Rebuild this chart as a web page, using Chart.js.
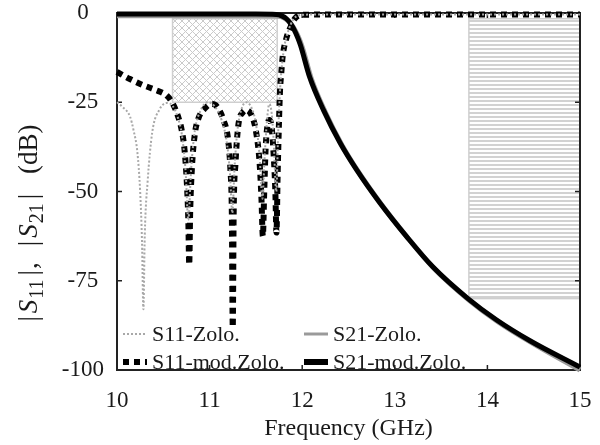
<!DOCTYPE html>
<html>
<head>
<meta charset="utf-8">
<script src="https://cdn.jsdelivr.net/npm/chart.js@4.4.0/dist/chart.umd.min.js"></script>
<style>
  body { margin: 0; background: #fff; }
</style>
</head>
<body>
<canvas id="grafico" width="600" height="445"></canvas>
<script>
// valores: [frequencia GHz, dB]
const s11Zolo = [
  [10, -25], [10.06, -26.3], [10.14, -29], [10.18, -33], [10.22, -39], [10.25, -50], [10.27, -64],
  [10.285, -83], [10.3, -62], [10.33, -47.5], [10.38, -33.5], [10.46, -27], [10.54, -25.2],
  [10.6, -26], [10.66, -29.5], [10.7, -34], [10.74, -44], [10.77, -58], [10.8, -44], [10.84, -33],
  [10.9, -27.5], [10.98, -25], [11.05, -26], [11.13, -30], [11.19, -37], [11.22, -45], [11.245, -56],
  [11.27, -43], [11.3, -33], [11.35, -26.5], [11.4, -25], [11.46, -27], [11.5, -31], [11.54, -40],
  [11.57, -52], [11.595, -40], [11.62, -30], [11.645, -25.5], [11.67, -28], [11.69, -35], [11.72, -50],
  [11.74, -34], [11.76, -22], [11.78, -15], [11.81, -9], [11.85, -5], [11.9, -2], [11.97, -0.6],
  [12.2, -0.4], [15, -0.4]
]
const s11ModZolo = [
  [10, -16.5], [10.14, -18.5], [10.28, -20.2], [10.41, -21.5], [10.54, -23.2], [10.6, -25.3],
  [10.66, -29], [10.7, -33], [10.73, -38.5], [10.755, -48], [10.77, -58], [10.78, -70.5],
  [10.79, -56], [10.81, -43], [10.84, -34], [10.88, -29.5], [10.95, -26.7], [11.02, -25.5],
  [11.08, -26.2], [11.15, -30], [11.2, -35.5], [11.225, -44], [11.24, -56], [11.25, -88],
  [11.26, -56], [11.28, -42], [11.31, -31.5], [11.36, -27.8], [11.4, -27.2], [11.45, -28.5],
  [11.5, -33], [11.54, -42], [11.56, -52], [11.575, -62.5], [11.59, -50], [11.605, -38],
  [11.625, -31.5], [11.645, -30], [11.67, -32], [11.69, -39], [11.71, -50], [11.722, -61.5],
  [11.735, -45], [11.75, -30], [11.76, -22], [11.775, -16.5], [11.79, -12], [11.83, -7],
  [11.87, -4.2], [11.92, -1.6], [12, -0.5], [12.5, -0.4], [15, -0.4]
]
const s21Zolo = [
  [10, -0.8], [11.5, -0.8], [11.74, -0.9], [11.8, -1.3], [11.85, -2.2], [11.9, -3.8], [11.95, -6.2],
  [12, -9.5], [12.1, -18.5], [12.25, -27.8], [12.43, -37], [12.61, -44.6], [12.86, -53.8],
  [13.15, -63.3], [13.43, -71.7], [13.81, -80.6], [14.12, -86.6], [14.48, -92.4], [15, -100]
]
const s21ModZolo = [
  [10, -0.3], [11.5, -0.3], [11.72, -0.4], [11.78, -0.8], [11.83, -1.6], [11.88, -3.2], [11.93, -5.6],
  [11.98, -8.9], [12.08, -17.9], [12.23, -27.2], [12.41, -36.4], [12.59, -44], [12.84, -53.2],
  [13.13, -62.7], [13.41, -71.1], [13.79, -80], [14.1, -86], [14.46, -91.8], [15, -99.2]
]

// mascaras de especificacao: [[freq inicial, dB topo], [freq final, dB base]]
const mascaraPassagem = [[10.6, -1.6], [11.73, -25]]
const mascaraRejeicao = [[13.8, -1.6], [15, -80]]

const ticksX = [10, 11, 12, 13, 14, 15]
const ticksY = [0, -25, -50, -75, -100]

const fonte = "'Liberation Serif', 'Times New Roman', serif"
const corTexto = "#1a1a1a"

function pontos(serie) {
  return serie.map(p => ({ x: p[0], y: p[1] }))
}

function padraoXadrez(ctx) {
  const c = document.createElement("canvas")
  c.width = 7
  c.height = 7
  const p = c.getContext("2d")
  p.strokeStyle = "#cacaca"
  p.lineWidth = 1
  p.beginPath()
  p.moveTo(0, 0); p.lineTo(7, 7)
  p.moveTo(7, 0); p.lineTo(0, 7)
  p.stroke()
  return ctx.createPattern(c, "repeat")
}

function padraoListras(ctx) {
  const c = document.createElement("canvas")
  c.width = 4
  c.height = 4
  const p = c.getContext("2d")
  p.fillStyle = "#d2d2d2"
  p.fillRect(0, 0, 4, 2)
  return ctx.createPattern(c, "repeat")
}

function desenharMascara(ctx, x, y, mascara, padrao) {
  const x0 = x.getPixelForValue(mascara[0][0])
  const x1 = x.getPixelForValue(mascara[1][0])
  const y0 = y.getPixelForValue(mascara[0][1])
  const y1 = y.getPixelForValue(mascara[1][1])
  ctx.save()
  ctx.fillStyle = padrao
  ctx.fillRect(x0, y0, x1 - x0, y1 - y0)
  ctx.strokeStyle = "#cfcfcf"
  ctx.lineWidth = 1.5
  ctx.strokeRect(x0, y0, x1 - x0, y1 - y0)
  ctx.restore()
}

// titulo do eixo y com subscritos: [texto, tamanho, estilo, deslocamento, espaco depois]
function desenharTituloY(ctx) {
  const partes = [
    ["|", 27, "", 0, 3], ["S", 27, "italic ", 0, 1], ["11", 20, "", 6, 4], ["|", 27, "", 0, 1],
    [",", 27, "", 0, 16], ["|", 27, "", 0, 3], ["S", 27, "italic ", 0, 1], ["21", 20, "", 6, 4],
    ["|", 27, "", 0, 20], ["(dB)", 27, "", 0, 0]
  ]
  ctx.save()
  let total = 0
  partes.forEach(p => {
    ctx.font = p[2] + p[1] + "px " + fonte
    total += ctx.measureText(p[0]).width + p[4]
  })
  ctx.translate(37, 223)
  ctx.rotate(-Math.PI / 2)
  ctx.fillStyle = corTexto
  ctx.textBaseline = "alphabetic"
  let pos = -total / 2
  partes.forEach(p => {
    ctx.font = p[2] + p[1] + "px " + fonte
    ctx.fillText(p[0], pos, p[3])
    pos += ctx.measureText(p[0]).width + p[4]
  })
  ctx.restore()
}

function desenharLegenda(chart) {
  const ctx = chart.ctx
  const colunas = [123, 304]
  const linhas = [334, 362]
  ctx.save()
  chart.data.datasets.forEach((ds, i) => {
    const x0 = colunas[i % 2]
    const yl = linhas[Math.floor(i / 2)]
    ctx.beginPath()
    ctx.strokeStyle = ds.borderColor
    ctx.lineWidth = ds.legendaLargura || ds.borderWidth
    ctx.setLineDash(ds.borderDash || [])
    ctx.moveTo(x0, yl)
    ctx.lineTo(x0 + 24, yl)
    ctx.stroke()
    ctx.setLineDash([])
    ctx.font = "22px " + fonte
    ctx.fillStyle = corTexto
    ctx.textBaseline = "middle"
    ctx.fillText(ds.label, x0 + 29, yl + 1)
  })
  ctx.restore()
}

const moldura = {
  id: "moldura",
  beforeDatasetsDraw(chart) {
    const { ctx, chartArea: a, scales: { x, y } } = chart
    desenharMascara(ctx, x, y, mascaraPassagem, padraoXadrez(ctx))
    desenharMascara(ctx, x, y, mascaraRejeicao, padraoListras(ctx))

    ctx.save()
    ctx.strokeStyle = "#222"
    ctx.lineWidth = 2
    ctx.strokeRect(a.left, a.top, a.right - a.left, a.bottom - a.top)
    ctx.lineWidth = 1.5
    ctx.beginPath()
    ticksY.slice(1, -1).forEach(v => {
      const py = y.getPixelForValue(v)
      ctx.moveTo(a.left, py); ctx.lineTo(a.left + 5, py)
      ctx.moveTo(a.right, py); ctx.lineTo(a.right - 5, py)
    })
    ticksX.slice(1, -1).forEach(v => {
      const px = x.getPixelForValue(v)
      ctx.moveTo(px, a.bottom); ctx.lineTo(px, a.bottom - 5)
      ctx.moveTo(px, a.top); ctx.lineTo(px, a.top + 5)
    })
    ctx.stroke()
    ctx.restore()
  },
  afterDraw(chart) {
    desenharLegenda(chart)
    desenharTituloY(chart.ctx)
  }
}

new Chart(document.getElementById("grafico"), {
  type: "line",
  data: {
    datasets: [
      {
        label: "S11-Zolo.",
        data: pontos(s11Zolo),
        borderColor: "#a8a8a8",
        borderWidth: 2,
        borderDash: [2, 2],
        order: 0
      },
      {
        label: "S21-Zolo.",
        data: pontos(s21Zolo),
        borderColor: "#9a9a9a",
        borderWidth: 5,
        legendaLargura: 3,
        order: 3
      },
      {
        label: "S11-mod.Zolo.",
        data: pontos(s11ModZolo),
        borderColor: "#000",
        borderWidth: 6,
        borderDash: [6, 5],
        order: 1
      },
      {
        label: "S21-mod.Zolo.",
        data: pontos(s21ModZolo),
        borderColor: "#000",
        borderWidth: 5,
        legendaLargura: 6,
        order: 2
      }
    ]
  },
  options: {
    responsive: false,
    animation: false,
    devicePixelRatio: 1,
    layout: { padding: { left: 0, top: 13, right: 20, bottom: 0 } },
    elements: {
      point: { radius: 0 },
      line: { cubicInterpolationMode: "monotone", borderCapStyle: "butt", fill: false }
    },
    datasets: { line: { clip: 4 } },
    plugins: {
      legend: { display: false },
      tooltip: { enabled: false }
    },
    scales: {
      x: {
        type: "linear",
        min: 10,
        max: 15,
        afterFit: scale => {
          scale.height = 75
          scale.paddingLeft = 0
          scale.paddingRight = 0
        },
        afterBuildTicks: scale => { scale.ticks = ticksX.map(v => ({ value: v })) },
        grid: { display: false, drawTicks: false },
        border: { display: false },
        ticks: { padding: 17, color: corTexto, font: { family: fonte, size: 23 } },
        title: {
          display: true,
          text: "Frequency (GHz)",
          color: corTexto,
          font: { family: fonte, size: 24 },
          padding: { top: 0, bottom: 2 }
        }
      },
      y: {
        type: "linear",
        min: -100,
        max: 0,
        afterFit: scale => {
          scale.width = 117
          scale.paddingTop = 0
          scale.paddingBottom = 0
        },
        afterBuildTicks: scale => { scale.ticks = ticksY.map(v => ({ value: v })) },
        grid: { display: false, drawTicks: false },
        border: { display: false },
        ticks: { padding: 13, crossAlign: "center", color: corTexto, font: { family: fonte, size: 23 } }
      }
    }
  },
  plugins: [moldura]
})
</script>
</body>
</html>
